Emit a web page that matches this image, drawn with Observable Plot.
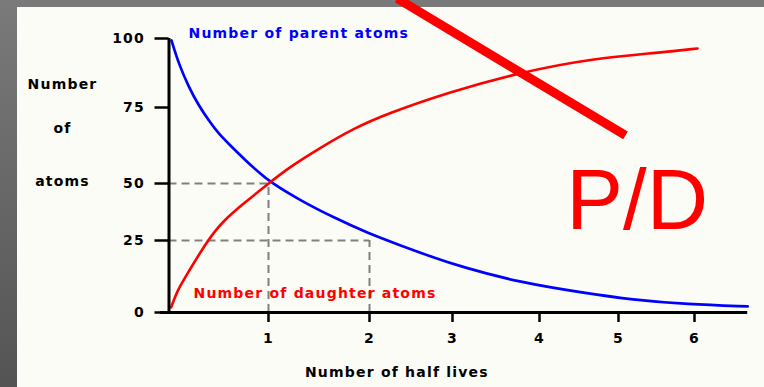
<!DOCTYPE html>
<html>
<head>
<meta charset="utf-8">
<script src="https://cdn.jsdelivr.net/npm/d3@7"></script>
<script src="https://cdn.jsdelivr.net/npm/@observablehq/plot@0.6"></script>
<style>
  html, body { margin: 0; padding: 0; }
  #wrap { position: relative; width: 764px; height: 387px; overflow: hidden;
          background: linear-gradient(#7a7a7a, #545454); }
  #paper { position: absolute; left: 17px; top: 7px; right: 0; bottom: 0; background: #fbfcf6; }
  #chart { position: absolute; left: 0; top: 0; }
</style>
</head>
<body>
<div id="wrap"><div id="paper"></div><div id="chart"></div></div>
<script>
// Number of half lives (x) and number of atoms (y)
const parentHalfLives = [0.025, 0.098, 0.199, 0.299, 0.400, 0.500, 0.635, 0.769, 0.902, 1.02, 1.317, 1.644, 1.99, 2.373, 2.771, 3.09, 3.77, 4.61, 5.16, 5.91, 6.70];
const parentAtoms     = [99.3, 90.8, 82.4, 75.7, 70.7, 66.3, 61.9, 57.6, 53.7, 50.4, 42.5, 35.1, 28.1, 23.3, 19.1, 16.0, 10.4, 6.6, 4.5, 2.8, 2.1];
const daughterHalfLives = [0.022, 0.082, 0.186, 0.385, 0.548, 0.749, 1, 1.218, 1.515, 1.842, 2.217, 2.94, 3.77, 4.68, 5.55, 6.04];
const daughterAtoms     = [1.8, 7.6, 13.5, 25, 33.8, 41.2, 50, 55.6, 61.8, 68.1, 73.0, 80.4, 87.7, 92.8, 94.9, 96.4];

const halfLifeTicks = [1, 2, 3, 4, 5, 6];
const atomTicks = [0, 25, 50, 75, 100];

// dashed guide lines: atoms remaining after n half lives
const guideHalfLives = [1, 2];
const guideAtoms = [50, 25];

// annotations (in data units)
const yTitleWords = ["Number", "of", "atoms"];
const yTitleAtoms = [83.3, 68.1, 50.7];
const strike = [{x1: 2.334, y1: 114.5, x2: 5.092, y2: 65.8}];
const ratioLabel = [{text: "P/D", x: 4.34, y: 42.0}];

const parent = parentHalfLives.map((t, i) => ({t, n: parentAtoms[i]}));
const daughter = daughterHalfLives.map((t, i) => ({t, n: daughterAtoms[i]}));
const guides = guideHalfLives.map((t, i) => ({t, n: guideAtoms[i]}));

// the original drawing's axes are unevenly spaced: piecewise-linear scale warps
const warpX = d3.scaleLinear([0, 1, 2, 3, 4, 5, 6, 7], [168.5, 268, 369, 452, 539, 618, 694, 770]);
const warpY = d3.scaleLinear([0, 25, 50, 75, 100], [312, 240, 183, 107, 38]);

const chart = Plot.plot({
  width: 764, height: 387,
  marginLeft: 168.5, marginBottom: 75, marginTop: 38, marginRight: 17,
  style: "font-family: 'DejaVu Sans', sans-serif; font-weight: bold; font-size: 14px; letter-spacing: 1.2px; background: transparent; overflow: visible; color: #000;",
  x: {transform: warpX, domain: [0, 764], range: [0, 764]},
  y: {transform: warpY, domain: [0, 387], range: [0, 387]},
  marks: [
    Plot.ruleY(guides, {y: "n", x1: 0, x2: "t", stroke: "#808080", strokeWidth: 2, strokeDasharray: "8,5"}),
    Plot.ruleX(guides, {x: "t", y1: 0, y2: "n", stroke: "#808080", strokeWidth: 2, strokeDasharray: "8,5"}),
    Plot.line(parent, {x: "t", y: "n", stroke: "#0000ff", strokeWidth: 2.7, curve: "basis"}),
    Plot.line(daughter, {x: "t", y: "n", stroke: "#ff0000", strokeWidth: 2.6, curve: "basis"}),
    Plot.ruleY([0], {x1: -0.085, x2: 6.7, stroke: "#000", strokeWidth: 3}),
    Plot.ruleX([0], {y1: 0, y2: 100, stroke: "#000", strokeWidth: 3}),
    Plot.axisX(halfLifeTicks, {tickSize: 10, tickPadding: 11, strokeWidth: 2.5, label: null, tickFormat: d => String(d)}),
    Plot.axisY(atomTicks, {tickSize: 14, tickPadding: 10, strokeWidth: 2.5, label: null, tickFormat: d => String(d)}),
    Plot.text(["Number of parent atoms"], {x: 0.196, y: 101.8, text: d => d, textAnchor: "start", fill: "#0000ff"}),
    Plot.text(["Number of daughter atoms"], {x: 0.246, y: 6.6, text: d => d, textAnchor: "start", fill: "#ff0000"}),
    Plot.text(yTitleWords, {x: -1.07, y: (d, i) => yTitleAtoms[i], text: d => d, textAnchor: "middle", fill: "#000"}),
    Plot.text(["Number of half lives"], {x: 2.33, y: -20.8, text: d => d, textAnchor: "middle", fill: "#000"}),
    Plot.link(strike, {x1: "x1", y1: "y1", x2: "x2", y2: "y2", stroke: "#ff0000", strokeWidth: 9}),
    Plot.text(ratioLabel, {x: "x", y: "y", text: "text", textAnchor: "start", fill: "#ff0000", fontSize: 85, fontWeight: "normal", fontFamily: "'Liberation Sans', Arial, sans-serif"})
  ]
});
chart.querySelectorAll("text").forEach(t => { if (t.textContent === "P/D") t.style.letterSpacing = "0px"; });
document.getElementById("chart").append(chart);
</script>
</body>
</html>
